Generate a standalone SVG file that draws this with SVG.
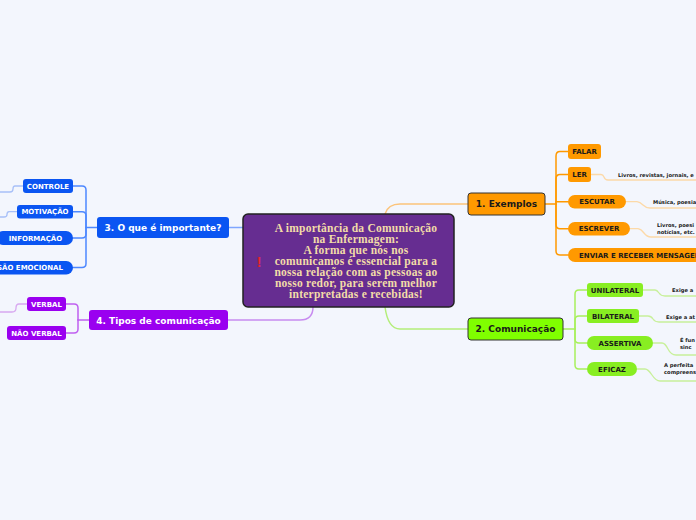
<svg xmlns="http://www.w3.org/2000/svg" width="696" height="520" viewBox="0 0 696 520">
<style>
.t{font-family:"DejaVu Sans","Verdana",sans-serif;font-weight:bold;text-anchor:middle}
.m{font-size:9px}
.c{font-size:7px}
.l{font-family:"DejaVu Sans",sans-serif;font-weight:bold;font-size:5.2px;fill:#1a1a1a}
.dk{fill:#1a1a1a}
.wh{fill:#ffffff}
.or{fill:#ff9900}
.gr{fill:#88ee22}
.bl{fill:#0a55f2}
.pu{fill:#9a00f0}
.cn{fill:none;stroke-width:1.5;stroke-linecap:round}
.lf{fill:none;stroke-width:1.3}
.ctr{font-family:"Liberation Serif","Times New Roman",serif;font-weight:bold;font-size:11.5px;fill:#f2dca8;text-anchor:middle;letter-spacing:0.25px}
</style>
<rect x="0" y="0" width="696" height="520" fill="#f3f6fd"/>
<g id="connectors">
<path class="cn" stroke="#fcc47a" d="M385 214 Q388 204 400 204 H468"/>
<path class="cn" stroke="#b4ee7a" d="M385 307 Q388 329 400 329 H468"/>
<path class="cn" stroke="#7fa6ff" d="M243 227.5 H229"/>
<path class="cn" stroke="#c88cf0" d="M313 307 Q313 320 300 320 H228"/>
<g stroke="#ff9900" class="cn">
<path d="M545 204 H556"/>
<path d="M556 204 V156 Q556 151.5 560 151.5 H568"/>
<path d="M556 204 V179 Q556 174.5 560 174.5 H568"/>
<path d="M556 201.7 H568"/>
<path d="M556 204 V224.5 Q556 228.7 560 228.7 H568"/>
<path d="M556 204 V251 Q556 255 560 255 H568"/>
</g>
<g stroke="#a8f05c" class="cn">
<path d="M563 329 H575"/>
<path d="M575 329 V294 Q575 290 579 290 H587"/>
<path d="M575 329 V320 Q575 316 579 316 H587"/>
<path d="M575 329 V339 Q575 343 579 343 H587"/>
<path d="M575 329 V365 Q575 369 579 369 H587"/>
</g>
<g stroke="#4d88ff" class="cn">
<path d="M97 227.5 H86"/>
<path d="M86 227.5 V190 Q86 186 82 186 H73"/>
<path d="M86 227.5 V215.5 Q86 211.7 82 211.7 H73"/>
<path d="M86 227.5 V234 Q86 238 82 238 H73"/>
<path d="M86 227.5 V263.5 Q86 267.5 82 267.5 H73"/>
</g>
<g stroke="#c060f0" class="cn">
<path d="M89 320 H78"/>
<path d="M78 320 V308 Q78 304 74 304 H66"/>
<path d="M78 320 V329 Q78 333 74 333 H66"/>
</g>
<g stroke="#fcd9a8" class="lf">
<path d="M591 174.5 H601 Q603 174.5 604 177 Q605 180 608 180 H700"/>
<path d="M626 201.7 H637 Q640 202 643 205 Q646 208 650 208 H700"/>
<path d="M630 228.7 H638 Q641 229 644 233 Q647 237 651 237 H700"/>
</g>
<g stroke="#c8f09a" class="lf">
<path d="M643 290 H655 Q657 290 659 293 Q661 296 665 296 H700"/>
<path d="M639 316 H648 Q651 316 653 319 Q655 322 659 322 H700"/>
<path d="M653 343 H662 Q665 343 668 349 Q671 355 676 355 H700"/>
<path d="M637 369 H645 Q648 369 652 375 Q656 381 660 381 H700"/>
</g>
<g stroke="#a8c0f8" class="lf">
<path d="M23 186 H15 Q13 186 13 189 Q13 192 10 192 H-5"/>
<path d="M17 211.7 H9 Q7 212 7 214.5 Q7 217 4 217 H-5"/>
</g>
<g stroke="#d8a8f0" class="lf">
<path d="M27 304 H19 Q16 304 16 308 Q16 312 12 312 H-5"/>
</g>
</g>
<g id="central">
<rect x="243" y="214" width="211" height="93" rx="5" fill="#662d91" stroke="#222" stroke-width="1.5"/>
<text class="ctr" x="356" y="231.5">A importância da Comunicação</text>
<text class="ctr" x="356" y="242.5">na Enfermagem:</text>
<text class="ctr" x="356" y="253.5">A forma que nós nos</text>
<text class="ctr" x="356" y="264.5">comunicamos é essencial para a</text>
<text class="ctr" x="356" y="275.5">nossa relação com as pessoas ao</text>
<text class="ctr" x="356" y="286.5">nosso redor, para serem melhor</text>
<text class="ctr" x="356" y="297.5">interpretadas e recebidas!</text>
<text x="259" y="267" font-family="Liberation Sans,sans-serif" font-weight="bold" font-size="14" fill="#e8262a" text-anchor="middle">!</text>
</g>
<g id="n1">
<rect x="468" y="193" width="77" height="22" rx="3" class="or" stroke="#333" stroke-width="1"/>
<text class="t m dk" x="506.5" y="207.3">1. Exemplos</text>
</g>
<g id="n1a"><rect x="568" y="144" width="33" height="15" rx="3" class="or"/><text class="t c dk" x="584.5" y="154">FALAR</text></g>
<g id="n1b"><rect x="568" y="167" width="23" height="15" rx="3" class="or"/><text class="t c dk" x="579.5" y="177">LER</text>
<text class="l" x="618" y="177">Livros, revistas, jornais, e</text></g>
<g id="n1c"><rect x="568" y="195" width="58" height="13.5" rx="6.75" class="or"/><text class="t c dk" x="597" y="204.2">ESCUTAR</text>
<text class="l" x="653" y="204">Música, poesia</text></g>
<g id="n1d"><rect x="568" y="222" width="62" height="13.5" rx="6.75" class="or"/><text class="t c dk" x="599" y="231.2">ESCREVER</text>
<text class="l" x="657" y="227">Livros, poesi</text><text class="l" x="657" y="233.5">notícias, etc.</text></g>
<g id="n1e"><rect x="568" y="248" width="150" height="14" rx="7" class="or"/><text class="t c dk" x="579" y="257.5" style="text-anchor:start">ENVIAR E RECEBER MENSAGENS</text></g>
<g id="n2">
<rect x="468" y="318" width="95" height="22" rx="3" fill="#80ff00" stroke="#333" stroke-width="1"/>
<text class="t m dk" x="515.5" y="332.3">2. Comunicação</text>
</g>
<g id="n2a"><rect x="587" y="283" width="56" height="14" rx="3" class="gr"/><text class="t c dk" x="615" y="292.5">UNILATERAL</text>
<text class="l" x="672" y="292">Exige a</text></g>
<g id="n2b"><rect x="587" y="309" width="52" height="14" rx="3" class="gr"/><text class="t c dk" x="613" y="318.5">BILATERAL</text>
<text class="l" x="666" y="318.5">Exige a at</text></g>
<g id="n2c"><rect x="587" y="336" width="66" height="14" rx="7" class="gr"/><text class="t c dk" x="620" y="345.5">ASSERTIVA</text>
<text class="l" x="680" y="342">É fun</text><text class="l" x="680" y="348.5">sinc</text></g>
<g id="n2d"><rect x="587" y="362" width="50" height="14" rx="7" class="gr"/><text class="t c dk" x="612" y="371.5">EFICAZ</text>
<text class="l" x="664" y="367">A perfeita</text><text class="l" x="664" y="373.5">compreens</text></g>
<g id="n3">
<rect x="97" y="217" width="132" height="21" rx="3" class="bl"/>
<text class="t m wh" x="163" y="230.8">3. O que é importante?</text>
</g>
<g id="n3a"><rect x="23" y="179" width="50" height="14" rx="3" class="bl"/><text class="t c wh" x="48" y="188.5">CONTROLE</text></g>
<g id="n3b"><rect x="17" y="205" width="56" height="13.5" rx="3" class="bl"/><text class="t c wh" x="45" y="214.2">MOTIVAÇÃO</text></g>
<g id="n3c"><rect x="-4" y="231" width="77" height="14" rx="7" class="bl"/><text class="t c wh" x="35.5" y="240.5">INFORMAÇÃO</text></g>
<g id="n3d"><rect x="-60" y="261" width="133" height="13.5" rx="6.75" class="bl"/><text class="t c wh" x="63" y="270.2" style="text-anchor:end">EXPRESSÃO EMOCIONAL</text></g>
<g id="n4">
<rect x="89" y="310" width="139" height="20" rx="3" class="pu"/>
<text class="t m wh" x="158.5" y="323.5">4. Tipos de comunicação</text>
</g>
<g id="n4a"><rect x="27" y="297" width="39" height="14" rx="3" class="pu"/><text class="t c wh" x="46.5" y="306.5">VERBAL</text></g>
<g id="n4b"><rect x="7" y="326" width="59" height="14" rx="3" class="pu"/><text class="t c wh" x="36.5" y="335.5">NÃO VERBAL</text></g>
</svg>
